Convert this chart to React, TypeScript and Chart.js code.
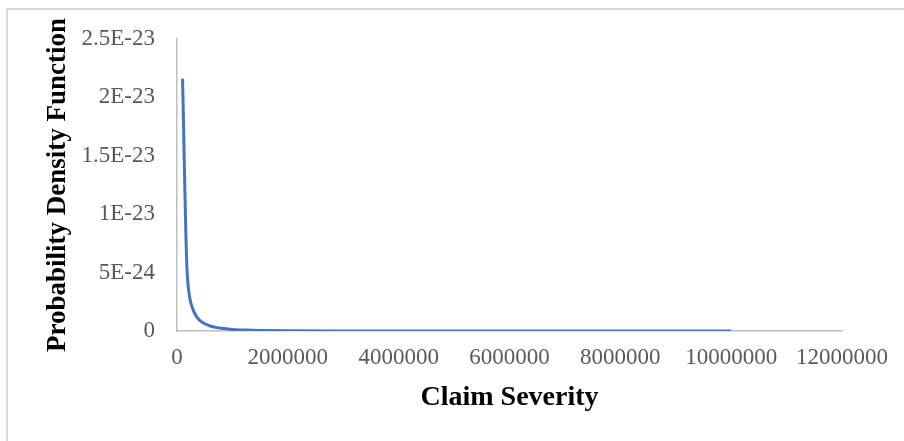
import React, { useEffect, useRef } from "react";
import { Chart, registerables } from "chart.js";

Chart.register(...registerables);

const claimSeverity: number[] = [
  100000, 110000, 120000, 130000, 140000, 150000, 160000, 170000, 180000,
  200000, 225000, 250000, 300000, 350000, 400000, 500000, 600000, 700000,
  800000, 1000000, 1250000, 1500000, 2000000, 3000000, 4000000, 6000000,
  8000000, 10000000,
];
const pdfValues: number[] = [
  2.16e-23, 1.95e-23, 1.72e-23, 1.48e-23, 1.25e-23, 1.04e-23, 8.3e-24, 6.6e-24,
  5.3e-24, 3.9e-24, 3.0e-24, 2.4e-24, 1.7e-24, 1.25e-24, 9.5e-25, 6.2e-25,
  4.3e-25, 3.1e-25, 2.3e-25, 1.35e-25, 7.8e-26, 5.0e-26, 2.4e-26, 8e-27,
  4e-27, 1.5e-27, 7e-28, 4e-28,
];
const xTickLabels: string[] = ["0", "2000000", "4000000", "6000000", "8000000", "10000000", "12000000"];
const yTickLabels: string[] = ["0", "5E-24", "1E-23", "1.5E-23", "2E-23", "2.5E-23"];
const xTitle = "Claim Severity";
const yTitle = "Probability Density Function";

const outerBorder = {
  id: "outerBorder",
  beforeDraw(chart: any) {
    const ctx = chart.ctx;
    ctx.save();
    ctx.strokeStyle = "#d9d9d9";
    ctx.lineWidth = 2;
    ctx.strokeRect(7, 9, 1000, 1000);
    ctx.restore();
  },
};

export default function App() {
  const ref = useRef<HTMLCanvasElement>(null);
  useEffect(() => {
    document.body.style.margin = "0";
    const canvas = ref.current;
    if (!canvas) return;
    const chart = new Chart(canvas, {
      type: "scatter",
      data: {
        datasets: [
          {
            data: claimSeverity.map((x, i) => ({ x, y: pdfValues[i] })),
            showLine: true,
            borderColor: "#4472C4",
            backgroundColor: "#4472C4",
            borderWidth: 3,
            pointRadius: 0,
            cubicInterpolationMode: "monotone",
          },
        ],
      },
      plugins: [outerBorder],
      options: {
        animation: false,
        responsive: false,
        layout: { padding: { top: 39, right: 62, left: 0, bottom: 0 } },
        plugins: { legend: { display: false }, tooltip: { enabled: false } },
        scales: {
          x: {
            type: "linear",
            min: 0,
            max: 12000000,
            grid: { display: false, drawTicks: false },
            border: { display: true, color: "#bfbfbf", width: 1.5 },
            ticks: {
              stepSize: 2000000,
              autoSkip: false,
              maxRotation: 0,
              padding: 13,
              color: "#595959",
              font: { family: "'Liberation Serif'", size: 23 },
              callback: (_v: any, i: number) => xTickLabels[i],
            },
            title: {
              display: true,
              text: xTitle,
              color: "#000000",
              font: { family: "'Liberation Serif'", size: 28, weight: "bold" },
              padding: { top: 0, bottom: 26 },
            },
            afterFit: (s: any) => {
              s.height = 110;
              s.paddingLeft = 0;
              s.paddingRight = 0;
            },
          },
          y: {
            type: "linear",
            min: 0,
            max: 2.5e-23,
            grid: { display: false, drawTicks: false },
            border: { display: true, color: "#bfbfbf", width: 1.5 },
            ticks: {
              stepSize: 5e-24,
              padding: 22,
              color: "#595959",
              font: { family: "'Liberation Serif'", size: 23 },
              callback: (_v: any, i: number) => yTickLabels[i],
            },
            title: {
              display: true,
              text: yTitle,
              color: "#000000",
              font: { family: "'Liberation Serif'", size: 27, weight: "bold" },
              padding: { top: 42, bottom: 0 },
            },
            afterFit: (s: any) => {
              s.width = 177;
              s.paddingTop = 0;
              s.paddingBottom = 0;
            },
          },
        },
      },
    } as any);
    return () => chart.destroy();
  }, []);
  return (
    <div style={{ width: 904, height: 441, position: "relative", overflow: "hidden", background: "#fff" }}>
      <canvas ref={ref} width={904} height={441} />
    </div>
  );
}
